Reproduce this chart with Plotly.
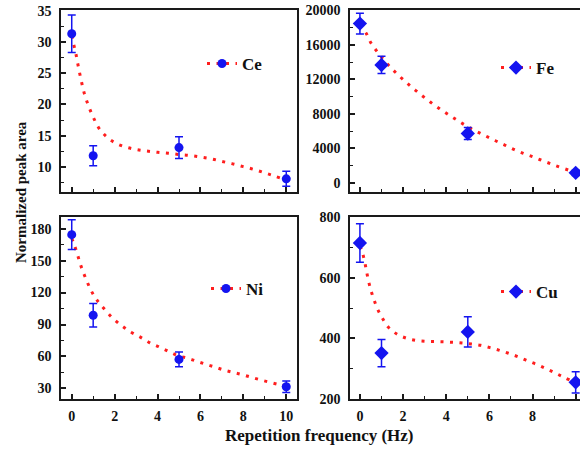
import plotly.graph_objects as go

# ---- data ----
freq = [0, 1, 5, 10]

ce_y = [31.3, 11.8, 13.1, 8.1]
ce_err = [3.0, 1.6, 1.75, 1.2]
fe_y = [18470, 13670, 5720, 1150]
fe_err = [1200, 1000, 700, 300]
ni_y = [174.4, 98.7, 57.2, 31.5]
ni_err = [14, 11, 7, 5.5]
cu_y = [715, 351, 421, 254]
cu_err = [64, 45, 50, 35]

ce_fit_x = [0, 0.1, 0.2, 0.3, 0.45, 0.6, 0.8, 1.0, 1.25, 1.6, 2.0, 2.5, 3.0, 3.5, 4.0,
            4.5, 5.0, 5.5, 6.0, 6.5, 7.0, 7.5, 8.0, 8.5, 9.0, 9.5, 10]
ce_fit_y = [31.0, 29.5, 28.0, 26.2, 23.7, 21.6, 19.6, 18.0, 16.3, 14.9, 13.9, 13.2, 12.8,
            12.55, 12.35, 12.2, 12.0, 11.85, 11.6, 11.3, 10.9, 10.5, 10.05, 9.6, 9.05, 8.5, 7.9]

fe_fit_x = [0, 0.28, 0.49, 0.8, 1.15, 1.55, 1.98, 2.4, 2.83, 3.26, 3.69, 4.13, 4.56, 4.98,
            5.41, 5.84, 6.28, 6.71, 7.13, 7.57, 7.99, 8.42, 8.86, 9.27, 9.71, 10]
fe_fit_y = [18300, 17390, 16320, 15200, 14130, 13060, 12020, 11100, 10210, 9370, 8600, 7870,
            7180, 6530, 5950, 5420, 4880, 4380, 3880, 3420, 3040, 2610, 2190, 1810, 1430, 1150]

ni_fit_x = [0, 0.1, 0.25, 0.38, 0.52, 0.7, 0.9, 1.16, 1.5, 1.9, 2.34, 2.77, 3.2, 3.64, 4.07,
            4.51, 4.93, 5.38, 5.8, 6.23, 6.67, 7.1, 7.52, 7.96, 8.39, 8.83, 9.26, 9.68, 10]
ni_fit_y = [171, 166, 157, 148, 140, 131, 122, 113.4, 105, 96.2, 88.7, 82.8, 78.1, 72.8, 69.0,
            64.7, 60.9, 58.4, 55.6, 52.8, 50.0, 47.2, 45.0, 42.8, 40.3, 37.8, 35.6, 33.4, 31.5]

cu_fit_x = [0, 0.11, 0.22, 0.3, 0.39, 0.5, 0.64, 0.8, 1.02, 1.31, 1.73, 2.16, 2.59, 3.03,
            3.46, 3.88, 4.31, 4.74, 5.17, 5.6, 6.03, 6.47, 6.9, 7.32, 7.75, 8.19, 8.62, 9.05,
            9.48, 10]
cu_fit_y = [705, 685, 653, 624, 592, 561, 530, 499, 469, 437, 413, 400, 393, 390, 389, 388,
            386.5, 384.5, 381, 376.5, 369, 360, 350, 339, 326, 313.5, 299.5, 285, 270, 252]

x_ticks = [0, 2, 4, 6, 8, 10]

FONT = "Liberation Serif"
BLUE = "#1414F0"
RED = "#FF1E1E"
AXC = "#1a1a1a"

panels = [
    # name, y, err, fit_x, fit_y, symbol, axis suffix, legend id
    ("Ce", ce_y, ce_err, ce_fit_x, ce_fit_y, "circle", "", "legend"),
    ("Fe", fe_y, fe_err, fe_fit_x, fe_fit_y, "diamond", "2", "legend2"),
    ("Ni", ni_y, ni_err, ni_fit_x, ni_fit_y, "circle", "3", "legend3"),
    ("Cu", cu_y, cu_err, cu_fit_x, cu_fit_y, "diamond", "4", "legend4"),
]

fig = go.Figure()
for name, y, err, fx, fy, sym, sfx, leg in panels:
    xa = "x" + sfx
    ya = "y" + sfx
    msize = 9 if sym == "circle" else 11
    fig.add_trace(go.Scatter(
        x=fx, y=fy, mode="lines", xaxis=xa, yaxis=ya, showlegend=False,
        line=dict(color=RED, width=3, dash="3px,6.5px", shape="spline"),
        hoverinfo="skip"))
    fig.add_trace(go.Scatter(
        x=freq, y=y, mode="markers", xaxis=xa, yaxis=ya, showlegend=False,
        marker=dict(color=BLUE, size=msize, symbol=sym),
        error_y=dict(type="data", array=err, color=BLUE, thickness=1.5, width=4),
        cliponaxis=False))
    fig.add_trace(go.Scatter(
        x=[None], y=[None], mode="lines+markers", xaxis=xa, yaxis=ya, name=name,
        legend=leg, showlegend=True,
        line=dict(color=RED, width=3, dash="3px,6.5px"),
        marker=dict(color=BLUE, size=msize, symbol=sym)))

tickfont = dict(family=FONT, size=14, color="#111", weight="bold")

def xaxis(domain, rng, show_labels, anchor):
    return dict(domain=domain, range=rng, anchor=anchor, tickvals=x_ticks,
                showticklabels=show_labels, ticks="inside", ticklen=5, tickwidth=1.5,
                tickcolor=AXC, showline=True, linecolor=AXC, linewidth=1.5, mirror=True,
                showgrid=False, zeroline=False, tickfont=tickfont, ticklabelstandoff=3,
                minor=dict(dtick=1, ticks="inside", ticklen=3, tickwidth=1.2,
                           tickcolor=AXC, showgrid=False),
                automargin=False)

def yaxis(domain, rng, dtick, anchor):
    return dict(domain=domain, range=rng, anchor=anchor, dtick=dtick, tick0=0,
                tickformat="d",
                ticks="inside", ticklen=5, tickwidth=1.5, tickcolor=AXC,
                showline=True, linecolor=AXC, linewidth=1.5, mirror=True,
                showgrid=False, zeroline=False, tickfont=tickfont, ticklabelstandoff=5,
                minor=dict(dtick=dtick / 2, ticks="inside", ticklen=3, tickwidth=1.2,
                           tickcolor=AXC, showgrid=False),
                automargin=False)

W, H = 580, 450
L_dom = [61 / W, 297 / W]
R_dom = [350 / W, 1.0]
T_dom = [1 - 192 / H, 1 - 10 / H]
B_dom = [1 - 399 / H, 1 - 217 / H]

legfont = dict(family=FONT, size=17, color="#111", weight="bold")

def legend(x, y):
    return dict(x=x, y=y, xanchor="left", yanchor="middle", bgcolor="rgba(0,0,0,0)",
                font=legfont, itemwidth=30, borderwidth=0, tracegroupgap=0)

fig.update_layout(
    width=W, height=H,
    margin=dict(l=0, r=0, t=0, b=0),
    paper_bgcolor="white", plot_bgcolor="white",
    xaxis=xaxis(L_dom, [-0.5, 10.5], False, "y"),
    yaxis=yaxis(T_dom, [6, 35.1], 5, "x"),
    xaxis2=xaxis(R_dom, [-0.46, 10.2], False, "y2"),
    yaxis2=yaxis(T_dom, [-1070, 20050], 4000, "x2"),
    xaxis3=xaxis(L_dom, [-0.5, 10.5], True, "y3"),
    yaxis3=yaxis(B_dom, [20, 191], 30, "x3"),
    xaxis4=xaxis(R_dom, [-0.46, 10.2], True, "y4"),
    yaxis4=yaxis(B_dom, [199, 801], 200, "x4"),
    legend=legend(202 / W, 1 - 64 / H),
    legend2=legend(496 / W, 1 - 68 / H),
    legend3=legend(206 / W, 1 - 289 / H),
    legend4=legend(496 / W, 1 - 292 / H),
    annotations=[
        dict(text="Normalized peak area", x=21 / W, y=1 - 192 / H, xref="paper",
             yref="paper", showarrow=False, textangle=-90,
             xanchor="center", yanchor="middle",
             font=dict(family=FONT, size=15, color="#111", weight="bold")),
        dict(text="Repetition frequency (Hz)", x=319 / W, y=1 - 435 / H, xref="paper",
             yref="paper", showarrow=False, xanchor="center", yanchor="middle",
             font=dict(family=FONT, size=17, color="#111", weight="bold")),
    ],
)

fig.write_html("out.html", config={"displayModeBar": False},
               post_script="document.body.style.margin='0px';document.body.style.overflow='hidden';")
